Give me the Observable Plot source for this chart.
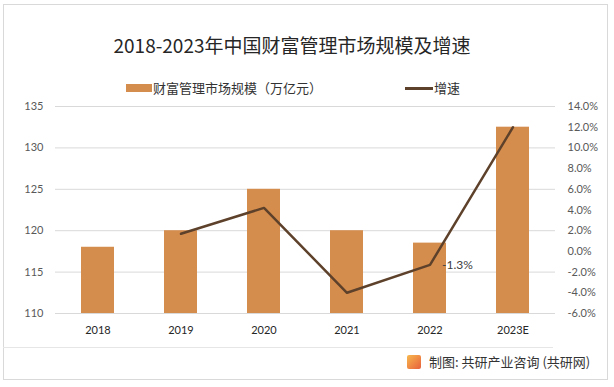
<!DOCTYPE html>
<html>
<head>
<meta charset="utf-8">
<script src="https://cdn.jsdelivr.net/npm/d3@7"></script>
<script src="https://cdn.jsdelivr.net/npm/@observablehq/plot@0.6"></script>
<style>
  html, body { margin: 0; padding: 0; background: #fff; }
  #wrap { position: relative; width: 614px; height: 387px; overflow: hidden; font-family: "Noto Sans CJK SC", sans-serif; }
  #frame { position: absolute; left: 3px; top: 4px; width: 605px; height: 376px; border: 1px solid #d9d9d9; box-sizing: border-box; }
  #title { position: absolute; left: 0; width: 584px; top: 31px; text-align: center; font-size: 19px; color: #262626; line-height: 28px; }
  #legend { position: absolute; top: 79px; left: 0; width: 614px; height: 18px; font-size: 13px; color: #333; }
  .lg { position: absolute; top: 0; line-height: 18px; white-space: nowrap; }
  .sw-bar { display: inline-block; width: 26px; height: 8px; background: #D58D4E; vertical-align: middle; margin-right: 1px; position: relative; top: -1px; }
  .sw-line { display: inline-block; width: 28px; height: 3px; background: #5E412A; vertical-align: middle; margin-right: 1px; position: relative; top: -1px; }
  #sep { position: absolute; left: 3px; top: 347px; width: 550px; height: 1px; background: #e6e6e6; }
  #footer { position: absolute; left: 407px; top: 353px; font-size: 13px; color: #333; line-height: 18px; white-space: nowrap; }
  .logo { display: inline-block; width: 14px; height: 14px; border-radius: 2px; background: linear-gradient(135deg, #f7b84e, #e8603c); vertical-align: middle; margin-right: 8px; position: relative; top: -1px; }
  #chart { position: absolute; left: 0; top: 0; }
</style>
</head>
<body>
<div id="wrap">
  <div id="frame"></div>
  <div id="chart"></div>
  <div id="title">2018-2023年中国财富管理市场规模及增速</div>
  <div id="legend">
    <div class="lg" style="left:126px"><span class="sw-bar"></span>财富管理市场规模（万亿元）</div>
    <div class="lg" style="left:405px"><span class="sw-line"></span>增速</div>
  </div>
  <div id="sep"></div>
  <div id="footer"><span class="logo"></span>制图: 共研产业咨询 (共研网)</div>
</div>
<script>
const years = ["2018", "2019", "2020", "2021", "2022", "2023E"];
const marketSize = [118, 120, 125, 120, 118.5, 132.5];
const growthRate = [null, 1.7, 4.2, -4.0, -1.3, 12.0];
const leftTicks = [110, 115, 120, 125, 130, 135];
const rightTicks = [-6, -4, -2, 0, 2, 4, 6, 8, 10, 12, 14];
const labeledYear = "2022";

const yMin = 110, yMax = 135, gMin = -6, gMax = 14;
const g2y = g => yMin + (g - gMin) / (gMax - gMin) * (yMax - yMin);
const y2g = v => (v - yMin) / (yMax - yMin) * (gMax - gMin) + gMin;

const bars = years.map((year, i) => ({year, value: marketSize[i]}));
const line = years.map((year, i) => ({year, g: growthRate[i]})).filter(d => d.g !== null);
const labels = line.filter(d => d.year === labeledYear);

const chart = Plot.plot({
  width: 614,
  height: 387,
  marginTop: 106,
  marginBottom: 74,
  marginLeft: 55,
  marginRight: 59,
  style: {fontFamily: "Lato, 'Noto Sans CJK SC', sans-serif", background: "transparent"},
  x: {type: "band", domain: years, paddingInner: 0.6, paddingOuter: 0.3, label: null},
  y: {domain: [yMin, yMax], label: null},
  marks: [
    Plot.gridY(leftTicks, {stroke: "#d9d9d9", strokeOpacity: 1}),
    Plot.barY(bars, {x: "year", y1: () => yMin, y2: "value", fill: "#D58D4E"}),
    Plot.line(line, {x: "year", y: d => g2y(d.g), stroke: "#5E412A", strokeWidth: 2.5, strokeLinejoin: "round"}),
    Plot.text(labels, {x: "year", y: d => g2y(d.g), text: d => d.g.toFixed(1) + "%", dx: 12, textAnchor: "start", fontSize: 12, fill: "#404040"}),
    Plot.axisY(leftTicks, {anchor: "left", tickSize: 0, tickPadding: 12, fontSize: 11, color: "#595959", label: null}),
    Plot.axisY(rightTicks.map(g2y), {anchor: "right", tickSize: 0, tickPadding: 12, fontSize: 11, color: "#595959", label: null, tickFormat: v => y2g(v).toFixed(1) + "%"}),
    Plot.axisX({tickSize: 0, tickPadding: 13, fontSize: 11, color: "#262626", label: null})
  ]
});
document.getElementById("chart").appendChild(chart);
</script>
</body>
</html>
